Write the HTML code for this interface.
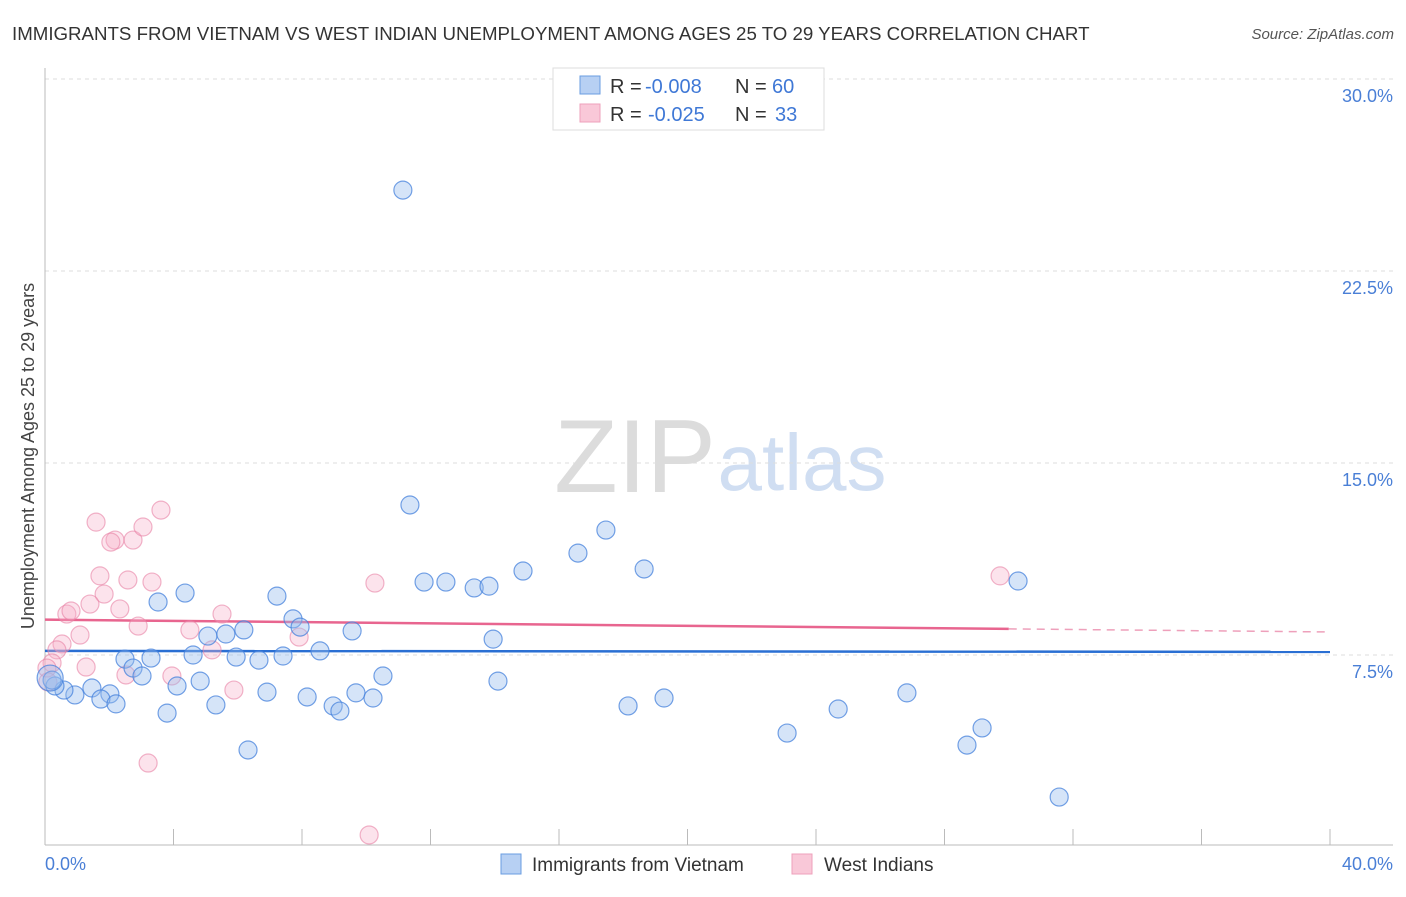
<!DOCTYPE html>
<html><head><meta charset="utf-8"><style>
body{margin:0;background:#fff;font-family:"Liberation Sans",sans-serif;}
svg text{font-family:"Liberation Sans",sans-serif;}
</style></head><body>
<svg id="chart" width="1406" height="892">
<text x="12" y="40" font-size="18.7" fill="#333">IMMIGRANTS FROM VIETNAM VS WEST INDIAN UNEMPLOYMENT AMONG AGES 25 TO 29 YEARS CORRELATION CHART</text>
<text x="1394" y="39" font-size="15" fill="#555" font-style="italic" text-anchor="end">Source: ZipAtlas.com</text>
<text x="635" y="492" font-size="104" fill="#dcdcdc" font-family="Liberation Serif" text-anchor="middle">ZIP</text>
<text x="802" y="490" font-size="80" fill="#d0def2" text-anchor="middle">atlas</text>
<g id="grid"></g>
<g id="axes"></g>
<g id="lines"></g>
<g id="pts"></g>
<text transform="translate(34,456) rotate(-90)" font-size="18" fill="#444" text-anchor="middle">Unemployment Among Ages 25 to 29 years</text>
<text x="45" y="870" font-size="18" fill="#4a7fd6">0.0%</text>
<text x="1393" y="870" font-size="18" fill="#4a7fd6" text-anchor="end">40.0%</text>
<g>
<rect x="553" y="68" width="271" height="62" fill="#fff" stroke="#ddd"/>
<rect x="580" y="76" width="20" height="18" fill="#b7d0f3" stroke="#6a9de0"/>
<rect x="580" y="104" width="20" height="18" fill="#f9c8d8" stroke="#eea0bb"/>
<text x="610" y="93" font-size="20" fill="#333">R =</text>
<text x="645" y="93" font-size="20" fill="#3f78d6">-0.008</text>
<text x="735" y="93" font-size="20" fill="#333">N =</text>
<text x="772" y="93" font-size="20" fill="#3f78d6">60</text>
<text x="610" y="121" font-size="20" fill="#333">R =</text>
<text x="648" y="121" font-size="20" fill="#3f78d6">-0.025</text>
<text x="735" y="121" font-size="20" fill="#333">N =</text>
<text x="775" y="121" font-size="20" fill="#3f78d6">33</text>
</g>
<g>
<rect x="501" y="854" width="20" height="20" fill="#b7d0f3" stroke="#6a9de0"/>
<text x="532" y="871" font-size="19" fill="#333">Immigrants from Vietnam</text>
<rect x="792" y="854" width="20" height="20" fill="#f9c8d8" stroke="#eea0bb"/>
<text x="824" y="871" font-size="19" fill="#333">West Indians</text>
</g>
</svg>
<script>
const yTicks=[7.5,15,22.5,30];
const yTickLabels=["7.5%","15.0%","22.5%","30.0%"];
const xTicks=[0,4,8,12,16,20,24,28,32,36,40];
const blueX=[11.14,11.36,17.46,16.59,14.88,18.65,11.80,12.48,13.36,13.82,30.29,4.36,3.52,7.22,7.72,7.94,5.07,5.63,6.19,9.56,13.95,8.56,2.49,3.30,4.61,5.95,6.66,7.41,2.74,3.02,10.52,14.10,4.83,4.11,1.46,2.02,1.74,2.21,0.93,0.59,0.31,0.22,6.91,8.16,9.68,10.21,8.97,9.18,5.32,3.80,18.15,19.27,26.83,24.69,23.10,29.17,28.70,6.32,31.57,0.16];
const blueY=[25.66,13.36,12.38,11.48,10.78,10.86,10.35,10.35,10.12,10.19,10.39,9.92,9.57,9.80,8.91,8.59,8.24,8.32,8.48,8.44,8.12,7.66,7.34,7.38,7.50,7.42,7.30,7.46,6.99,6.68,6.68,6.48,6.48,6.29,6.21,5.98,5.78,5.59,5.94,6.13,6.29,6.52,6.05,5.86,6.02,5.82,5.51,5.31,5.55,5.23,5.51,5.82,6.02,5.39,4.45,4.65,3.98,3.79,1.95,6.60];
const pinkX=[3.61,1.59,2.18,2.05,2.74,3.05,1.71,2.58,3.33,1.84,1.40,0.68,0.81,2.33,5.51,2.90,4.51,1.09,0.53,0.37,0.22,0.06,1.28,7.91,5.20,2.52,3.95,5.88,10.27,29.73,3.21,10.09,0.09];
const pinkY=[13.16,12.69,11.99,11.91,11.99,12.50,10.59,10.43,10.35,9.88,9.49,9.10,9.22,9.30,9.10,8.63,8.48,8.28,7.93,7.70,7.19,6.99,7.03,8.20,7.70,6.72,6.68,6.13,10.31,10.59,3.28,0.47,6.45];
const blueTrend=[7.66,7.62];
const pinkTrend=[8.88,8.40];
const pinkTrendSolidEnd=30;
const NS="http://www.w3.org/2000/svg";
const X=v=>45+v/40*1285, Y=v=>847-v/30*768;
function mk(tag,at,parent){const e=document.createElementNS(NS,tag);for(const k in at)e.setAttribute(k,at[k]);document.getElementById(parent).appendChild(e);return e;}
yTicks.forEach((t,i)=>{
 const l=mk('line',{x1:45,x2:1393,y1:Y(t),y2:Y(t),stroke:'#ddd','stroke-dasharray':'4,4'},'grid');
 
 
 const tx=mk('text',{x:1393,y:Y(t)+23,'font-size':18,fill:'#4a7fd6','text-anchor':'end'},'grid');
 tx.textContent=yTickLabels[i];
 
 
});
let a=mk('line',{x1:45,x2:45,y1:68,y2:845,stroke:'#bbb'},'axes');


a=mk('line',{x1:45,x2:1393,y1:845,y2:845,stroke:'#bbb'},'axes');


xTicks.forEach(t=>{const l=mk('line',{x1:X(t),x2:X(t),y1:829,y2:845,stroke:'#bbb'},'axes');
 
 });
function pts(xs,ys,fill,stroke,name){xs.forEach((x,i)=>{const c=mk('circle',{cx:X(x),cy:Y(ys[i]),r:i===xs.length-1&&name==='vietnam-point'?13:9,fill:fill,stroke:stroke,'stroke-width':1.2},'pts');
 
 });}
pts(pinkX,pinkY,'rgba(245,175,200,0.35)','rgba(232,130,165,0.6)','west-indian-point');
pts(blueX,blueY,'rgba(150,188,238,0.4)','rgba(70,130,220,0.75)','vietnam-point');
let t=mk('line',{x1:X(0),x2:X(40),y1:Y(blueTrend[0]),y2:Y(blueTrend[1]),stroke:'#2a6fd3','stroke-width':2.5},'lines');


const pm=pinkTrend[0]+(pinkTrend[1]-pinkTrend[0])*pinkTrendSolidEnd/40;
t=mk('line',{x1:X(0),x2:X(pinkTrendSolidEnd),y1:Y(pinkTrend[0]),y2:Y(pm),stroke:'#e8658f','stroke-width':2.5},'lines');


t=mk('line',{x1:X(pinkTrendSolidEnd),x2:X(40),y1:Y(pm),y2:Y(pinkTrend[1]),stroke:'#eea0bb','stroke-width':1.5,'stroke-dasharray':'8,6'},'lines');


</script>
</body></html>
